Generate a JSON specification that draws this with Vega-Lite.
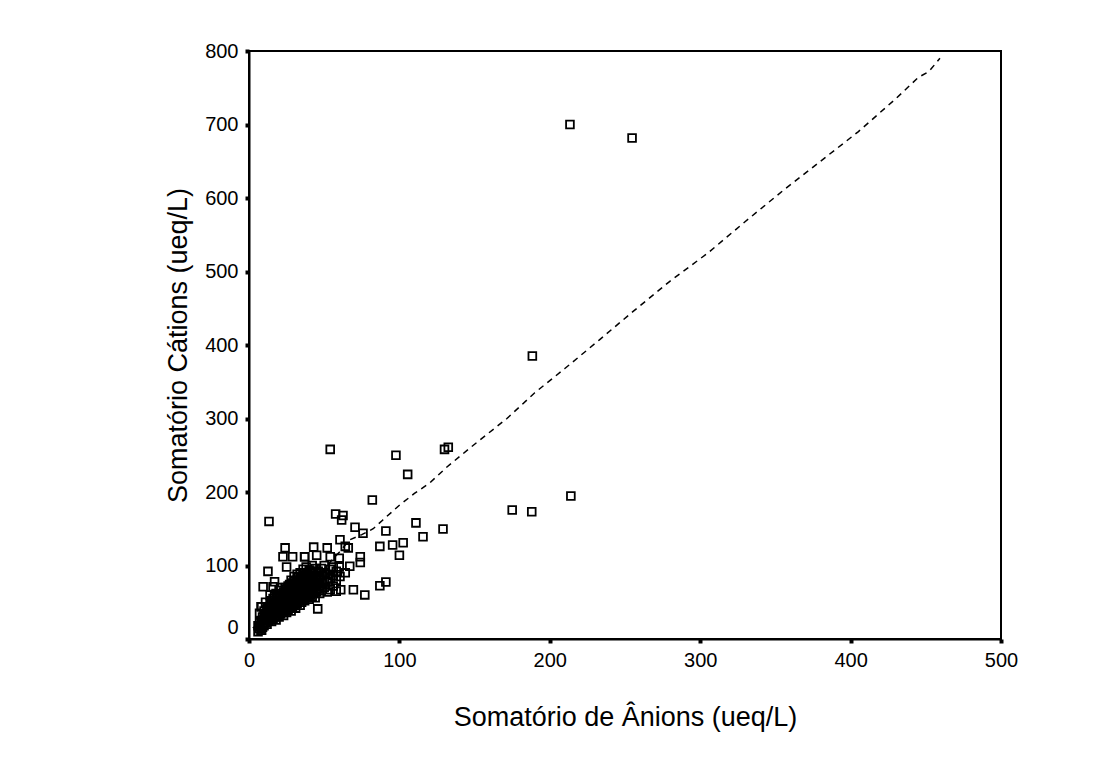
{
  "$schema": "https://vega.github.io/schema/vega-lite/v6.json",
  "autosize": "none",
  "width": 752,
  "height": 588,
  "padding": {"left": 249, "top": 51, "right": 98, "bottom": 125},
  "background": "white",
  "config": {
    "view": {"stroke": "black", "strokeWidth": 2},
    "font": "Liberation Sans",
    "axis": {
      "domainColor": "black", "domainWidth": 2, "grid": false,
      "tickColor": "black", "tickSize": 4, "tickWidth": 4,
      "labelFont": "Liberation Sans", "labelFontSize": 20, "labelColor": "black",
      "titleFont": "Liberation Sans", "titleFontSize": 27, "titleFontWeight": "normal", "titleColor": "black"
    }
  },
  "datasets": {
    "pts": [
      {"a":6,"c":10},{"a":6,"c":18},{"a":7,"c":14},{"a":7,"c":22},{"a":7,"c":35},{"a":8,"c":12},{"a":8,"c":25},{"a":8,"c":44},
      {"a":9,"c":20},{"a":9,"c":30},{"a":9,"c":16},{"a":10,"c":18},{"a":10,"c":26},{"a":10,"c":38},{"a":9.4,"c":71},
      {"a":11,"c":22},{"a":11,"c":32},{"a":11,"c":28},{"a":11,"c":50},{"a":12,"c":20},{"a":12,"c":30},{"a":12,"c":42},{"a":12,"c":36},{"a":12.6,"c":92},
      {"a":13,"c":25},{"a":13,"c":34},{"a":13,"c":44},{"a":13,"c":28},{"a":14,"c":27},{"a":14,"c":38},{"a":14,"c":48},{"a":14,"c":32},{"a":14,"c":60},
      {"a":15,"c":24},{"a":15,"c":30},{"a":15,"c":36},{"a":15,"c":45},{"a":15,"c":52},{"a":16,"c":28},{"a":16,"c":40},{"a":16,"c":34},{"a":16,"c":55},{"a":16,"c":71},
      {"a":17,"c":30},{"a":17,"c":38},{"a":17,"c":46},{"a":17,"c":58},{"a":17,"c":78},{"a":18,"c":26},{"a":18,"c":35},{"a":18,"c":42},{"a":18,"c":50},{"a":18,"c":62},
      {"a":19,"c":32},{"a":19,"c":40},{"a":19,"c":48},{"a":19,"c":56},{"a":20,"c":30},{"a":20,"c":38},{"a":20,"c":45},{"a":20,"c":52},{"a":20,"c":60},{"a":20,"c":66},
      {"a":21,"c":34},{"a":21,"c":42},{"a":21,"c":50},{"a":21,"c":58},{"a":21,"c":70},{"a":22,"c":36},{"a":22,"c":44},{"a":22,"c":52},{"a":22,"c":60},{"a":22.6,"c":112},
      {"a":23,"c":32},{"a":23,"c":40},{"a":23,"c":48},{"a":23,"c":56},{"a":23,"c":64},{"a":24,"c":124},{"a":24,"c":38},{"a":24,"c":46},{"a":24,"c":54},{"a":24,"c":62},{"a":24,"c":70},
      {"a":25,"c":36},{"a":25,"c":44},{"a":25,"c":52},{"a":25,"c":60},{"a":25,"c":68},{"a":25,"c":98},{"a":26,"c":40},{"a":26,"c":48},{"a":26,"c":56},{"a":26,"c":64},{"a":26,"c":72},
      {"a":27,"c":42},{"a":27,"c":50},{"a":27,"c":58},{"a":27,"c":66},{"a":27,"c":74},{"a":28,"c":38},{"a":28,"c":46},{"a":28,"c":54},{"a":28,"c":62},{"a":28,"c":70},{"a":28,"c":80},{"a":29,"c":112},
      {"a":29,"c":44},{"a":29,"c":52},{"a":29,"c":60},{"a":29,"c":68},{"a":29,"c":76},{"a":30,"c":46},{"a":30,"c":54},{"a":30,"c":62},{"a":30,"c":70},{"a":30,"c":78},{"a":30,"c":85},
      {"a":31,"c":42},{"a":31,"c":50},{"a":31,"c":58},{"a":31,"c":66},{"a":31,"c":74},{"a":32,"c":48},{"a":32,"c":56},{"a":32,"c":64},{"a":32,"c":72},{"a":32,"c":80},{"a":32,"c":88},
      {"a":33,"c":52},{"a":33,"c":60},{"a":33,"c":68},{"a":33,"c":76},{"a":33,"c":84},{"a":34,"c":46},{"a":34,"c":55},{"a":34,"c":63},{"a":34,"c":71},{"a":34,"c":79},{"a":34,"c":90},
      {"a":35,"c":50},{"a":35,"c":58},{"a":35,"c":66},{"a":35,"c":74},{"a":35,"c":82},{"a":36,"c":54},{"a":36,"c":62},{"a":36,"c":70},{"a":36,"c":78},{"a":36,"c":86},{"a":36,"c":95},
      {"a":37,"c":52},{"a":37,"c":60},{"a":37,"c":68},{"a":37,"c":76},{"a":37,"c":84},{"a":37,"c":112},{"a":38,"c":56},{"a":38,"c":64},{"a":38,"c":72},{"a":38,"c":80},{"a":38,"c":88},{"a":38,"c":98},
      {"a":39,"c":58},{"a":39,"c":66},{"a":39,"c":74},{"a":39,"c":82},{"a":39,"c":90},{"a":40,"c":54},{"a":40,"c":62},{"a":40,"c":70},{"a":40,"c":78},{"a":40,"c":86},{"a":40,"c":94},
      {"a":41,"c":60},{"a":41,"c":68},{"a":41,"c":76},{"a":41,"c":84},{"a":41,"c":92},{"a":42,"c":58},{"a":42,"c":66},{"a":42,"c":74},{"a":42,"c":82},{"a":42,"c":90},{"a":42,"c":100},
      {"a":43,"c":62},{"a":43,"c":70},{"a":43,"c":78},{"a":43,"c":86},{"a":43,"c":125},{"a":44,"c":56},{"a":44,"c":66},{"a":44,"c":76},{"a":44,"c":86},{"a":44,"c":96},
      {"a":45,"c":64},{"a":45,"c":72},{"a":45,"c":80},{"a":45,"c":114},{"a":45.7,"c":41},{"a":46,"c":68},{"a":46,"c":76},{"a":46,"c":84},{"a":46,"c":92},
      {"a":47,"c":62},{"a":47,"c":72},{"a":47,"c":82},{"a":47,"c":90},{"a":48,"c":66},{"a":48,"c":76},{"a":48,"c":86},{"a":48,"c":96},
      {"a":50,"c":70},{"a":50,"c":80},{"a":50,"c":90},{"a":50,"c":100},{"a":52,"c":64},{"a":52,"c":78},{"a":52,"c":88},{"a":52,"c":124},
      {"a":54,"c":67},{"a":54,"c":82},{"a":54,"c":95},{"a":54,"c":112},{"a":56,"c":72},{"a":56,"c":86},{"a":56,"c":98},{"a":58,"c":65},{"a":58,"c":80},{"a":58,"c":92},
      {"a":60.5,"c":85},{"a":60,"c":98},{"a":60,"c":110},{"a":60.5,"c":135},{"a":64,"c":126},{"a":66,"c":124},{"a":64,"c":90},{"a":67,"c":99},{"a":74,"c":104},{"a":74,"c":112},
      {"a":61,"c":67},{"a":69.4,"c":67},{"a":77,"c":60},{"a":87,"c":72.5},{"a":91,"c":77.6},
      {"a":8.4,"c":44},{"a":7.3,"c":17},{"a":8.4,"c":12},{"a":37,"c":112},
      {"a":57.6,"c":170},{"a":62.5,"c":168},{"a":61.6,"c":162},{"a":70.5,"c":152},{"a":75.8,"c":144},{"a":82,"c":189},
      {"a":87,"c":126},{"a":95.5,"c":128},{"a":100,"c":114},{"a":102.5,"c":131},{"a":91,"c":147},{"a":111,"c":158},{"a":115.7,"c":139},{"a":129,"c":149.6},
      {"a":13.3,"c":160},{"a":54,"c":258},{"a":97.7,"c":250},{"a":105.5,"c":224},{"a":130,"c":258},{"a":132.5,"c":261},
      {"a":175,"c":175.5},{"a":188,"c":173},{"a":214,"c":194.5},{"a":188.4,"c":385},{"a":213.4,"c":700},{"a":254.7,"c":681.6}
    ],
    "fit": [
      {"a":2.5,"c":15},{"a":10,"c":27},{"a":20,"c":42},{"a":30,"c":58},{"a":40,"c":76},{"a":50,"c":96},{"a":60,"c":118},{"a":67,"c":135},
      {"a":75,"c":142},{"a":82.6,"c":150},{"a":89,"c":162},{"a":100,"c":182},{"a":110,"c":198},{"a":120,"c":212},{"a":131.6,"c":234},
      {"a":150,"c":265},{"a":171.5,"c":300},{"a":190,"c":335},{"a":210,"c":368},{"a":233,"c":407},{"a":255,"c":445},{"a":280,"c":487},
      {"a":305,"c":525},{"a":330,"c":568},{"a":355,"c":610},{"a":380,"c":650},{"a":405,"c":690},{"a":430,"c":735},{"a":445,"c":764},{"a":452,"c":772},{"a":459.4,"c":790}
    ]
  },
  "layer": [
    {
      "data": {"name": "fit"},
      "mark": {"type": "line", "color": "black", "strokeWidth": 1.5, "strokeDash": [6, 5]},
      "encoding": {
        "x": {"field": "a", "type": "quantitative"},
        "y": {"field": "c", "type": "quantitative"},
        "order": {"field": "a", "type": "quantitative"}
      }
    },
    {
      "data": {"name": "pts"},
      "mark": {"type": "point", "shape": "square", "filled": false, "size": 60, "stroke": "black", "strokeWidth": 1.8, "opacity": 1},
      "encoding": {
        "x": {
          "field": "a", "type": "quantitative",
          "scale": {"domain": [0, 500], "nice": false, "zero": true},
          "axis": {"title": "Somatório de Ânions (ueq/L)", "values": [0, 100, 200, 300, 400, 500], "labelPadding": 7, "titlePadding": 34, "labelFlush": false}
        },
        "y": {
          "field": "c", "type": "quantitative",
          "scale": {"domain": [0, 800], "nice": false},
          "axis": {
            "title": "Somatório Cátions (ueq/L)", "values": [0, 100, 200, 300, 400, 500, 600, 700, 800],
            "labelPadding": 7, "titlePadding": 12, "labelFlush": false,
            "labelOffset": {"condition": {"test": "datum.value === 0", "value": -12}, "value": 0}
          }
        }
      }
    }
  ]
}
